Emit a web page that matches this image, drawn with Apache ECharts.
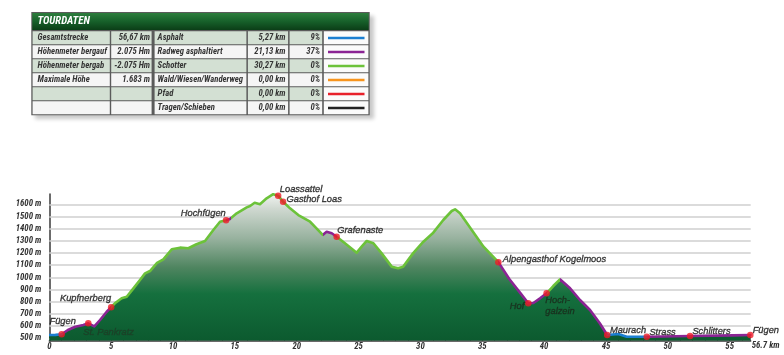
<!DOCTYPE html>
<html><head><meta charset="utf-8">
<script src="https://cdn.jsdelivr.net/npm/echarts@6/dist/echarts.min.js"></script>
<style>html,body{margin:0;padding:0;background:#fff}#c{width:784px;height:355px}</style>
</head><body><div id="c"></div>
<script>
// ---------- data ----------
const kmPts = [0, 0.5, 1.0, 1.1, 1.5, 2.1, 2.75, 3.15, 3.64, 4.1, 4.64, 5.0, 5.3, 5.85, 6.26, 6.8, 7.33, 7.74, 8.14, 8.68, 9.22, 9.9, 10.57, 11.24, 11.9, 12.59, 13.26, 13.8, 14.29, 14.6, 15.15, 15.96, 16.23, 16.6, 17.03, 17.57, 18.1, 18.5, 18.9, 19.46, 20.13, 21.08, 21.6, 22.1, 22.42, 22.83, 23.23, 23.9, 24.85, 25.25, 25.66, 26.2, 26.87, 27.68, 28.2, 28.6, 29.4, 30.24, 31.04, 31.85, 32.53, 32.8, 33.2, 34.15, 35.1, 36.3, 37.2, 38.05, 38.72, 39.13, 39.67, 40.2, 40.74, 41.28, 42.1, 42.9, 43.71, 44.5, 45.1, 46.0, 46.68, 48.3, 51.8, 55.3, 56.67];
const elevPts = [527, 528, 533, 535, 568, 595, 609, 623, 597, 650, 718, 755, 787, 828, 841, 910, 978, 1033, 1052, 1116, 1148, 1231, 1244, 1239, 1272, 1299, 1389, 1457, 1469, 1479, 1526, 1575, 1586, 1613, 1600, 1649, 1683, 1671, 1621, 1567, 1512, 1457, 1403, 1348, 1375, 1362, 1334, 1280, 1203, 1252, 1299, 1280, 1197, 1088, 1075, 1088, 1197, 1293, 1367, 1471, 1545, 1559, 1526, 1389, 1252, 1125, 985, 875, 787, 790, 828, 869, 929, 984, 910, 814, 732, 623, 527, 535, 513, 513, 519, 524, 527];

// surface sections: start km and surface type index
const sectionStart = [0, 1.1, 5.0, 14.3, 14.7, 22.1, 23.25, 36.3, 40.2, 41.3, 45.1, 48.3];
const sectionType  = [0, 1, 2, 1, 2, 1, 2, 1, 2, 1, 0, 1];

const surfaceNames = ['Asphalt', 'Radweg asphaltiert', 'Schotter', 'Wald/Wiesen/Wanderweg', 'Pfad', 'Tragen/Schieben'];
const surfaceKm    = ['5,27 km', '21,13 km', '30,27 km', '0,00 km', '0,00 km', '0,00 km'];
const surfacePct   = ['9%', '37%', '0%', '0%', '0%', '0%'];

const summaryLabels = ['Gesamtstrecke', 'Höhenmeter bergauf', 'Höhenmeter bergab', 'Maximale Höhe', '', ''];
const summaryValues = ['56,67 km', '2.075 Hm', '-2.075 Hm', '1.683 m', '', ''];
const tableTitle = 'TOURDATEN';

const waypointNames = ['Fügen', 'St. Pankratz', 'Kupfnerberg', 'Hochfügen', 'Loassattel', 'Gasthof Loas', 'Grafenaste', 'Alpengasthof Kogelmoos', 'Hof', 'Hoch-\ngalzein', 'Maurach', 'Strass', 'Schlitters', 'Fügen'];
const waypointKm   = [1.0, 3.15, 5.0, 14.29, 18.5, 18.9, 23.23, 36.3, 38.72, 40.2, 45.1, 48.3, 51.8, 56.67];
const waypointElev = [533, 623, 755, 1469, 1671, 1621, 1334, 1125, 787, 869, 527, 513, 519, 527];

const yTicks = [500, 600, 700, 800, 900, 1000, 1100, 1200, 1300, 1400, 1500, 1600];
const xTickStep = 5;
const totalKm = 56.67;

// ---------- styles ----------
const surfaceColors = ['#1b7fd1', '#8b2494', '#6cc23a', '#f7941d', '#e8202a', '#222222'];
const NARROW = '"Roboto Condensed","Open Sans Condensed","Liberation Sans",Arial,sans-serif';
const SANS = '"Liberation Sans",Arial,sans-serif';
const labelLayout = [
  {align: 'center', dx: 1, dy: -12.6},
  {align: 'left', dx: -5, dy: 9.4, color: '#1e3d27'},
  {align: 'right', dx: 0, dy: -9},
  {align: 'right', dx: -0.3, dy: -7},
  {align: 'left', dx: 1.7, dy: -6.7},
  {align: 'left', dx: 3.4, dy: -2.7},
  {align: 'left', dx: 0.6, dy: -6},
  {align: 'left', dx: 4.4, dy: -2.3},
  {align: 'right', dx: -4, dy: 3.4, color: '#1a2a1c'},
  {align: 'left', dx: -1.3, dy: 12.7, color: '#1a2a1c'},
  {align: 'left', dx: 2.7, dy: -5},
  {align: 'left', dx: 2.6, dy: -4.4},
  {align: 'left', dx: 2.3, dy: -4.3},
  {align: 'left', dx: 2.3, dy: -4.3}
];

const profile = kmPts.map((k, i) => [k, elevPts[i]]);

const pieces = sectionStart.map((s, i) => ({
  gte: s,
  lt: i < sectionStart.length - 1 ? sectionStart[i + 1] : 1000,
  color: surfaceColors[sectionType[i]]
}));

const waypoints = waypointNames.map((n, i) => {
  const L = labelLayout[i];
  const col = L.color || '#141414';
  return {
    name: n,
    value: [waypointKm[i], waypointElev[i]],
    label: {align: L.align, offset: [L.dx, L.dy], color: col, textBorderColor: col, textBorderWidth: 0.35}
  };
});

// ---------- table (graphic) ----------
const T = {x: 31.3, y: 12, w: 338.4, h: 103.3, headH: 18, rowY0: 31.3, rowH: 14.0, cellH: 12.9};
const cols = [[32.6, 109.8], [111.2, 151.6], [154.6, 246.4], [247.9, 288.1], [289.6, 322.2], [323.8, 368.4]];
const greenCell = '#d3e0d3', whiteCell = '#f5f5f5';
const g = [];
g.push({type: 'rect', shape: {x: T.x, y: T.y, width: T.w, height: T.h},
  style: {fill: '#5b5b5b', shadowColor: 'rgba(0,0,0,0.22)', shadowBlur: 4, shadowOffsetX: 4, shadowOffsetY: 4}, z: 10});
g.push({type: 'rect', shape: {x: T.x + 1, y: T.y + 1, width: T.w - 2, height: T.headH - 1},
  style: {fill: {type: 'linear', x: 0, y: 0, x2: 0, y2: 1, colorStops: [
    {offset: 0, color: '#2d7e3d'}, {offset: 0.5, color: '#17602a'}, {offset: 1, color: '#0b3e17'}]}}, z: 11});
g.push({type: 'text', style: {text: tableTitle, x: 37.5, y: T.y + 9.4, fill: '#ffffff',
  font: 'italic bold 10.8px ' + NARROW, verticalAlign: 'middle', align: 'left'}, z: 12});
const txtFont = 'italic bold 8.7px ' + NARROW;
for (let r = 0; r < 6; r++) {
  const y = T.rowY0 + r * T.rowH;
  const fillRow = r % 2 === 0 ? greenCell : whiteCell;
  cols.forEach((c, ci) => {
    g.push({type: 'rect', shape: {x: c[0], y: y, width: c[1] - c[0], height: T.cellH},
      style: {fill: ci === 5 ? '#fbfbfb' : fillRow}, z: 11});
  });
  const cy = y + T.cellH / 2 + 0.3;
  const cells = [
    [summaryLabels[r], cols[0][0] + 5, 'left'],
    [summaryValues[r], cols[1][1] - 1.5, 'right'],
    [surfaceNames[r], cols[2][0] + 3, 'left'],
    [surfaceKm[r], cols[3][1] - 2.5, 'right'],
    [surfacePct[r], cols[4][1] - 2, 'right']
  ];
  cells.forEach(cl => {
    if (cl[0]) g.push({type: 'text', style: {text: cl[0], x: cl[1], y: cy, fill: '#363636',
      font: txtFont, align: cl[2], verticalAlign: 'middle'}, z: 12});
  });
  g.push({type: 'line', shape: {x1: 328, y1: cy, x2: 364.5, y2: cy},
    style: {stroke: surfaceColors[r], lineWidth: 2.6}, z: 12});
}

// ---------- chart ----------
const chart = echarts.init(document.getElementById('c'), null, {renderer: 'canvas'});
const axisFont = {fontStyle: 'italic', fontWeight: 'bold', fontSize: 8.8, fontFamily: NARROW, color: '#333'};
chart.setOption({
  animation: false,
  backgroundColor: '#ffffff',
  grid: {left: 49.3, right: 33.3, top: 193.95, bottom: 14.3},
  xAxis: {
    type: 'value', min: 0, max: 56.7, interval: xTickStep,
    name: totalKm.toFixed(1) + ' km', nameLocation: 'end', nameGap: 1,
    nameTextStyle: Object.assign({}, axisFont, {align: 'left', verticalAlign: 'top', padding: [1, 0, 0, 0]}),
    axisLine: {lineStyle: {color: '#3a3a3a', width: 1.5}},
    axisTick: {inside: true, length: 4, lineStyle: {color: '#333', width: 1}},
    minorTick: {show: true, splitNumber: 5, length: 2, lineStyle: {color: '#444', width: 1}},
    splitLine: {show: false},
    axisLabel: Object.assign({}, axisFont, {margin: 1.5,
      formatter: v => (Math.abs(v % xTickStep) < 1e-6 ? String(v) : '')})
  },
  yAxis: {
    type: 'value', min: 480, max: 1685,
    axisLine: {show: true, lineStyle: {color: '#3a3a3a', width: 1.5}},
    axisTick: {show: false},
    splitLine: {show: false},
    axisLabel: Object.assign({}, axisFont, {margin: 8, customValues: yTicks, formatter: v => v + ' m'})
  },
  visualMap: {
    show: false, type: 'piecewise', dimension: 0, seriesIndex: 2, pieces: pieces
  },
  series: [
    {
      type: 'line', data: [], z: 1, silent: true,
      markLine: {
        z: 1, silent: true, symbol: 'none', label: {show: false}, animation: false,
        lineStyle: {color: '#cfcfcf', width: 1.5, type: 'solid'},
        data: yTicks.map(v => ({yAxis: v}))
      }
    },
    {
      type: 'line', data: profile, z: 2, symbol: 'none', silent: true,
      lineStyle: {width: 0},
      areaStyle: {opacity: 1, color: {type: 'linear', x: 0, y: 0, x2: 0, y2: 1, colorStops: [
        {offset: 0, color: '#f0f3f0'}, {offset: 0.1, color: '#cfd8d0'}, {offset: 0.3, color: '#98b29f'},
        {offset: 0.5, color: '#4f8560'}, {offset: 0.68, color: '#15703e'}, {offset: 1, color: '#0c5a2f'}]}}
    },
    {
      type: 'line', data: profile, z: 3, symbol: 'none', silent: true,
      lineStyle: {width: 2.6, join: 'round', cap: 'round'}
    },
    {
      type: 'scatter', data: waypoints, z: 4, symbolSize: 6.5, silent: true,
      itemStyle: {color: '#ee1c25'},
      label: {show: true, position: 'inside', verticalAlign: 'middle', formatter: p => p.name,
        fontStyle: 'italic', fontSize: 9.3, fontFamily: SANS, lineHeight: 10.7}
    }
  ],
  graphic: {elements: g}
});
</script>
</body></html>
